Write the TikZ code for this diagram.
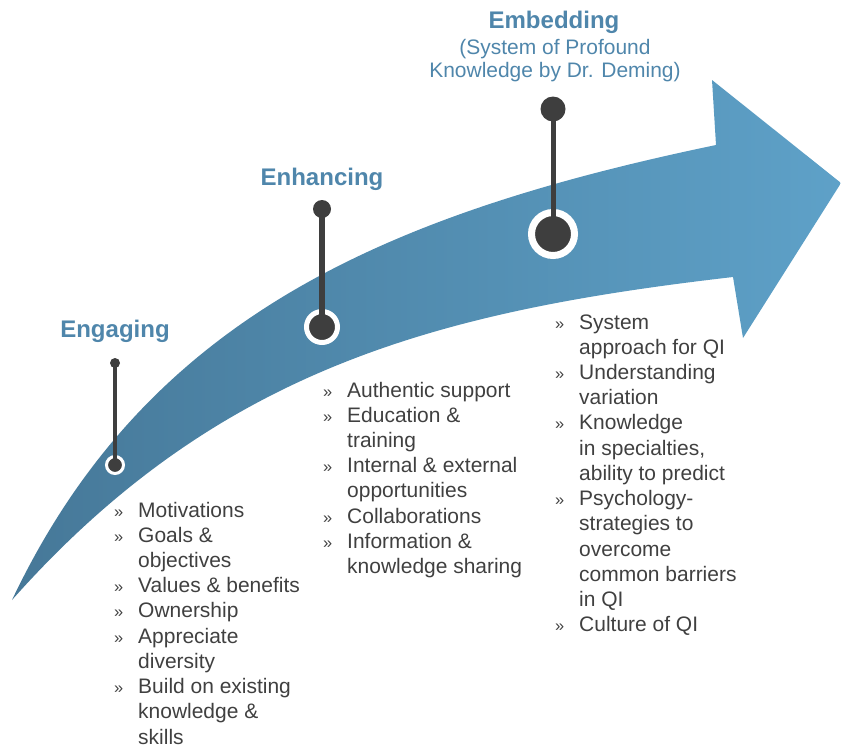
\documentclass[tikz,border=0pt]{standalone}
\usepackage{fontspec}
\setmainfont{Liberation Sans}
\definecolor{arrowL}{RGB}{70,120,152}
\definecolor{arrowR}{RGB}{94,161,200}
\definecolor{titleblue}{RGB}{79,134,171}
\definecolor{textgray}{RGB}{64,64,64}
\definecolor{markgray}{RGB}{62,62,62}
\newcommand{\bul}{\makebox[0.72cm][l]{\fontsize{14}{14}\selectfont »}}
\begin{document}
\begin{tikzpicture}[x=0.03cm,y=-0.03cm,
  titlestyle/.style={text=titleblue, font=\fontsize{20.5}{24}\selectfont\bfseries, anchor=base, inner sep=0pt},
  substyle/.style={text=titleblue, font=\fontsize{17.9}{20.3}\selectfont, anchor=base, inner sep=0pt},
  liststyle/.style={text=textgray, font=\fontsize{17.9}{21.55}\selectfont, anchor=base west, inner sep=0pt},
  topdot/.style={circle, fill=markgray, inner sep=0pt},
  ringdot/.style={circle, fill=markgray, draw=white, inner sep=0pt},
  stemline/.style={draw=markgray}]
\useasboundingbox (0,0) rectangle (841,750);
% arrow
\shade[left color=arrowL, right color=arrowR]
  (12,600) .. controls (145,320) and (380,215) .. (716,145)
  -- (712,80) -- (841,183) -- (743,338) -- (733,277)
  .. controls (439,311) and (218,368) .. (12,600) -- cycle;
% markers
\node[topdot, minimum size=0.30cm] (t1) at (115,363) {};
\node[ringdot, minimum size=0.51cm, line width=0.09cm] (b1) at (115,465) {};
\node[topdot, minimum size=0.54cm] (t2) at (322,209) {};
\node[ringdot, minimum size=0.93cm, line width=0.15cm] (b2) at (322,327) {};
\node[topdot, minimum size=0.75cm] (t3) at (553,109) {};
\node[ringdot, minimum size=1.29cm, line width=0.21cm] (b3) at (553,234) {};
\draw[stemline, line width=0.135cm] (t1.center) -- (b1.center);
\draw[stemline, line width=0.165cm] (t2.center) -- (b2.center);
\draw[stemline, line width=0.15cm] (t3.center) -- (b3.center);
% titles
\node[titlestyle] (h1) at (115,337) {Engaging};
\node[titlestyle] (h2) at (322,185) {Enhancing};
\node[titlestyle] (h3) at (554,28) {Embedding};
\node[substyle] (s3) at (555,54) {\begin{tabular}[t]{@{}c@{}}(System of Profound\\Knowledge by Dr. Deming)\end{tabular}};
% lists
\node[liststyle] (l1) at (114,517) {\begin{tabular}[t]{@{}l@{}l@{}}
\bul & Motivations\\
\bul & Goals \&\\
 & objectives\\
\bul & Values \& benefits\\
\bul & Ownership\\
\bul & Appreciate\\
 & diversity\\
\bul & Build on existing\\
 & knowledge \&\\
 & skills
\end{tabular}};
\node[liststyle] (l2) at (323,397) {\begin{tabular}[t]{@{}l@{}l@{}}
\bul & Authentic support\\
\bul & Education \&\\
 & training\\
\bul & Internal \& external\\
 & opportunities\\
\bul & Collaborations\\
\bul & Information \&\\
 & knowledge sharing
\end{tabular}};
\node[liststyle] (l3) at (555,329) {\begin{tabular}[t]{@{}l@{}l@{}}
\bul & System\\
 & approach for QI\\
\bul & Understanding\\
 & variation\\
\bul & Knowledge\\
 & in specialties,\\
 & ability to predict\\
\bul & Psychology-\\
 & strategies to\\
 & overcome\\
 & common barriers\\
 & in QI\\
\bul & Culture of QI
\end{tabular}};
\end{tikzpicture}
\end{document}
